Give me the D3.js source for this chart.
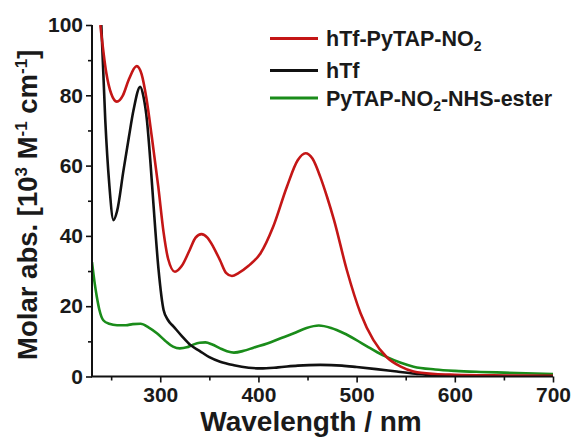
<!DOCTYPE html>
<html>
<head>
<meta charset="utf-8">
<script src="https://cdn.jsdelivr.net/npm/d3@7"></script>
<style>
  body { margin: 0; background: #fff; }
  svg text { font-family: "Liberation Sans", Arial, sans-serif; font-weight: bold; fill: #1a1a1a; }
</style>
</head>
<body>
<div id="chart"></div>
<script>
// wavelength (nm) / molar abs (10^3 M^-1 cm^-1)
var redWl = [239, 245, 250, 255.8, 262, 268, 276, 281, 286, 291.5, 298, 303.4, 308, 315, 322, 330, 336, 342, 348, 354, 361, 367, 373, 380, 390, 402, 415, 429, 440, 448, 455, 463, 470, 477, 490, 504, 517, 531, 545, 558, 580, 600, 650, 700]
var redAbs = [100, 86.5, 80.5, 78.2, 80, 84.5, 88.3, 86, 79, 68, 54, 41, 33.5, 29.8, 31.5, 36, 39.5, 40.5, 39.5, 36.9, 33, 29.5, 28.6, 29.5, 31.5, 35, 42.6, 54, 61.5, 63.5, 62, 56.8, 51, 44.5, 30.3, 18, 10.4, 5.4, 2.8, 1.4, 0.7, 0.5, 0.3, 0.2]

var blackWl = [240, 244, 248, 252.4, 256, 262.6, 268, 272.8, 279.6, 283, 286.4, 290, 293, 298.3, 303.4, 308, 313.6, 322, 330.6, 340, 350, 361, 375, 390, 402, 420, 440, 463, 485, 500, 520, 541, 560, 575, 600, 650, 700]
var blackAbs = [100, 73, 55, 44.5, 47, 58.7, 68, 75.8, 82.4, 79.5, 73, 61, 49.3, 30.3, 18.9, 16, 14.2, 11.5, 9, 7.3, 5.5, 4.2, 3.2, 2.5, 2.3, 2.6, 3.1, 3.3, 3.1, 2.7, 2.1, 1.4, 0.8, 0.4, 0.2, 0.1, 0.1]

var greenWl = [230.5, 233, 235.4, 238, 242, 248, 256, 265, 272, 280, 288, 296.6, 305, 313, 320, 327, 333, 340, 346, 353, 361, 368, 375, 385, 395, 409, 422, 436, 449, 461.5, 474, 487, 499, 511, 521, 531, 545, 558, 580, 600, 626, 650, 700]
var greenAbs = [32.5, 27, 22.7, 19, 16, 15, 14.6, 14.6, 14.9, 15, 14, 12.3, 10.2, 8.5, 8, 8.3, 9, 9.6, 9.7, 9.1, 8, 7.2, 6.8, 7.3, 8.2, 9.4, 10.8, 12.3, 13.8, 14.5, 13.8, 12.3, 10.5, 8.5, 6.9, 5.5, 3.9, 2.8, 2.0, 1.6, 1.3, 1.1, 0.7]

var xTicks = [300, 400, 500, 600, 700]
var xMinor = [250, 350, 450, 550, 650]
var yTicks = [0, 20, 40, 60, 80, 100]
var yMinor = [10, 30, 50, 70, 90]

var series = [
  {name: "hTf-PyTAP-NO", sub: "2", after: "", color: "#c41616", wl: redWl, abs: redAbs},
  {name: "hTf", sub: "", after: "", color: "#111111", wl: blackWl, abs: blackAbs},
  {name: "PyTAP-NO", sub: "2", after: "-NHS-ester", color: "#1a8c1a", wl: greenWl, abs: greenAbs}
]
// draw order: green under black under red
var drawOrder = [2, 1, 0]

var W = 571, H = 439
var margin = {top: 25, right: 18, bottom: 62.5, left: 92}
var width = W - margin.left - margin.right
var height = H - margin.top - margin.bottom

var svg = d3.select("#chart").append("svg")
    .attr("width", W)
    .attr("height", H)
var g = svg.append("g")
    .attr("transform", "translate(" + margin.left + "," + margin.top + ")")

var x = d3.scaleLinear().domain([230.5, 700]).range([0, width])
var y = d3.scaleLinear().domain([0, 100]).range([height, 0])

svg.append("clipPath").attr("id", "plotclip")
  .append("rect").attr("x", 0).attr("y", 0).attr("width", width + 2).attr("height", height)

var line = d3.line()
    .x(function(d) { return x(d[0]) })
    .y(function(d) { return y(d[1]) })
    .curve(d3.curveMonotoneX)

drawOrder.forEach(function(i) {
  var s = series[i]
  var pts = s.wl.map(function(w, k) { return [w, s.abs[k]] })
  g.append("path")
    .datum(pts)
    .attr("clip-path", "url(#plotclip)")
    .attr("fill", "none")
    .attr("stroke", s.color)
    .attr("stroke-width", 2.6)
    .attr("stroke-linejoin", "round")
    .attr("d", line)
})

// axes
var xAxis = d3.axisBottom(x).tickValues(xTicks).tickSize(6).tickPadding(5)
var yAxis = d3.axisLeft(y).tickValues(yTicks).tickSize(6).tickPadding(3)

g.append("g").attr("class", "xax").attr("transform", "translate(0," + height + ")").call(xAxis)
g.append("g").attr("class", "yax").call(yAxis)

g.append("g").attr("transform", "translate(0," + height + ")")
  .call(d3.axisBottom(x).tickValues(xMinor).tickSize(4).tickFormat(""))
g.append("g")
  .call(d3.axisLeft(y).tickValues(yMinor).tickSize(4).tickFormat(""))

g.selectAll(".domain").remove()
g.append("path").attr("d", "M0," + y(100) + "V" + y(0) + "H" + x(700))
  .attr("fill", "none").attr("stroke", "#111").attr("stroke-width", 2)
g.selectAll(".tick line").attr("stroke", "#111").attr("stroke-width", 1.6)
g.selectAll(".tick text").attr("font-size", "21px").attr("fill", "#1a1a1a")

// axis titles
svg.append("text")
  .attr("x", 311)
  .attr("y", 431)
  .attr("text-anchor", "middle")
  .attr("font-size", "28px")
  .text("Wavelength / nm")

var yt = svg.append("text")
  .attr("transform", "translate(37," + (margin.top + height / 2 + 4) + ") rotate(-90)")
  .attr("text-anchor", "middle")
  .attr("font-size", "27.5px")
yt.append("tspan").text("Molar abs. [10")
yt.append("tspan").attr("font-size", "17px").attr("dy", -10).text("3")
yt.append("tspan").attr("dy", 10).text(" M")
yt.append("tspan").attr("font-size", "17px").attr("dy", -10).text("-1")
yt.append("tspan").attr("dy", 10).text(" cm")
yt.append("tspan").attr("font-size", "17px").attr("dy", -10).text("-1")
yt.append("tspan").attr("dy", 10).text("]")

// legend
var legY = [38.5, 70.5, 98]
series.forEach(function(s, i) {
  svg.append("line")
    .attr("x1", 270).attr("x2", 318)
    .attr("y1", legY[i]).attr("y2", legY[i])
    .attr("stroke", s.color).attr("stroke-width", 3)
  var t = svg.append("text")
    .attr("x", 326).attr("y", legY[i] + 7.5)
    .attr("font-size", "21.5px")
  t.append("tspan").text(s.name)
  if (s.sub) {
    t.append("tspan").attr("font-size", "14px").attr("dy", 5).text(s.sub)
    if (s.after) t.append("tspan").attr("dy", -5).text(s.after)
  }
})
</script>
</body>
</html>
